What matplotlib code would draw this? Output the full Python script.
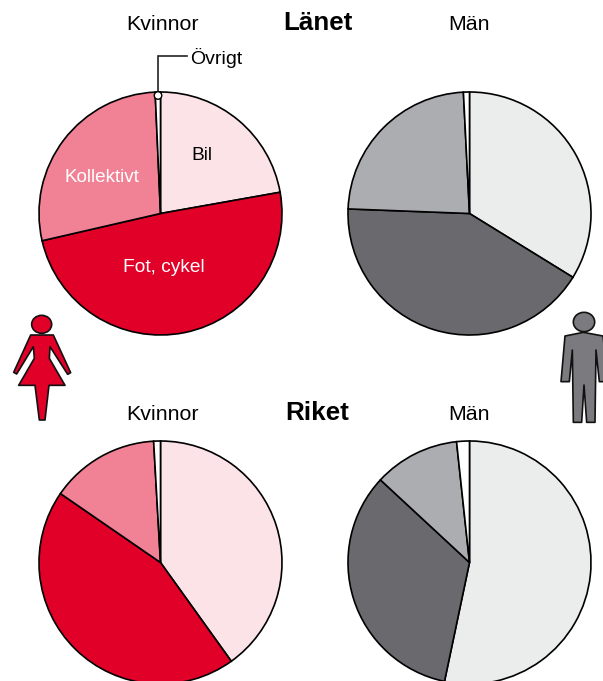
import matplotlib
matplotlib.use("Agg")
import matplotlib.pyplot as plt
from matplotlib.patches import Polygon, Ellipse

plt.rcParams['font.family'] = ['Liberation Sans', 'DejaVu Sans']

W, H = 603, 681
categories = ["Bil", "Fot, cykel", "Kollektivt", "Övrigt"]
lanet_kvinnor = [22.2, 49.2, 27.9, 0.7]
lanet_man = [33.8, 41.8, 23.6, 0.8]
riket_kvinnor = [40.1, 44.5, 14.5, 0.9]
riket_man = [53.3, 33.6, 11.4, 1.7]

red_colors = ["#FBE3E7", "#E00028", "#F18296", "#FFFFFF"]
grey_colors = ["#EBEDEC", "#6A6A6E", "#ACADB0", "#FFFFFF"]

fig = plt.figure(figsize=(W / 100, H / 100), dpi=100)
ax = fig.add_axes([0, 0, 1, 1])


def Y(py):
    return H - py


def pie(values, colors, cx, cy, r=121.5):
    ax.pie(values, colors=colors, startangle=90, counterclock=False,
           center=(cx, Y(cy)), radius=r, normalize=True, frame=True,
           wedgeprops=dict(edgecolor="black", linewidth=1.2))


pie(lanet_kvinnor, red_colors, 160.5, 213.5)
pie(lanet_man, grey_colors, 469.5, 213.5)
pie(riket_kvinnor, red_colors, 160.5, 562.5)
pie(riket_man, grey_colors, 469.5, 562.5)

ax.set_xlim(0, W)
ax.set_ylim(0, H)
ax.set_aspect("equal")
ax.axis("off")


def T(px, py, s, size=15.4, **kw):
    ax.text(px, Y(py), s, ha="center", va="center", fontsize=size, **kw)


T(162, 25, "Kvinnor")
T(468.5, 25, "Män")
T(162, 415, "Kvinnor")
T(468.5, 415, "Män")
T(317.5, 23, "Länet", size=18.7, fontweight="bold")
T(317.5, 413, "Riket", size=18.7, fontweight="bold")
T(201.5, 155, categories[0], size=13.8)
T(164, 268, categories[1], size=13.8, color="white")
T(102, 177, categories[2], size=13.6, color="white")
ax.text(190, Y(58.5), categories[3], ha="left", va="center", fontsize=14)

# Leader for Övrigt
ax.plot([187, 158, 158], [Y(56), Y(56), Y(95)], color="#222222", lw=1.2,
        solid_joinstyle="miter", zorder=5)
ax.add_patch(Ellipse((158, Y(95.5)), 7.5, 7.5, fc="white", ec="black", lw=1, zorder=6))


def icon(points, ox, oy, color, head):
    pts = [(ox + x / 3, Y(oy + y / 3)) for x, y in points]
    ax.add_patch(Polygon(pts, closed=True, fc=color, ec="#111111", lw=1.2,
                         joinstyle="round", zorder=4, clip_on=True))
    hx, hy, rx, ry = head
    ax.add_patch(Ellipse((ox + hx / 3, Y(oy + hy / 3)), 2 * rx / 3, 2 * ry / 3,
                         fc=color, ec="#111111", lw=1.2, zorder=4))


woman = [(92, 105), (160, 105), (212, 218), (203, 223), (150, 140), (148, 175),
         (195, 256), (147, 256), (135, 360), (118, 360), (105, 256), (56, 256),
         (103, 175), (100, 140), (50, 222), (41, 217)]
icon(woman, 0, 300, "#E00028", (125, 73, 30, 27))

man = [(105, 108), (160, 97), (219, 108), (235, 245), (208, 245), (198, 150),
       (195, 367), (170, 367), (162, 255), (155, 367), (130, 367), (127, 150),
       (118, 245), (93, 245)]
icon(man, 530, 300, "#7B7A7E", (162, 66, 32, 29))

fig.savefig("out.png", dpi=100)
